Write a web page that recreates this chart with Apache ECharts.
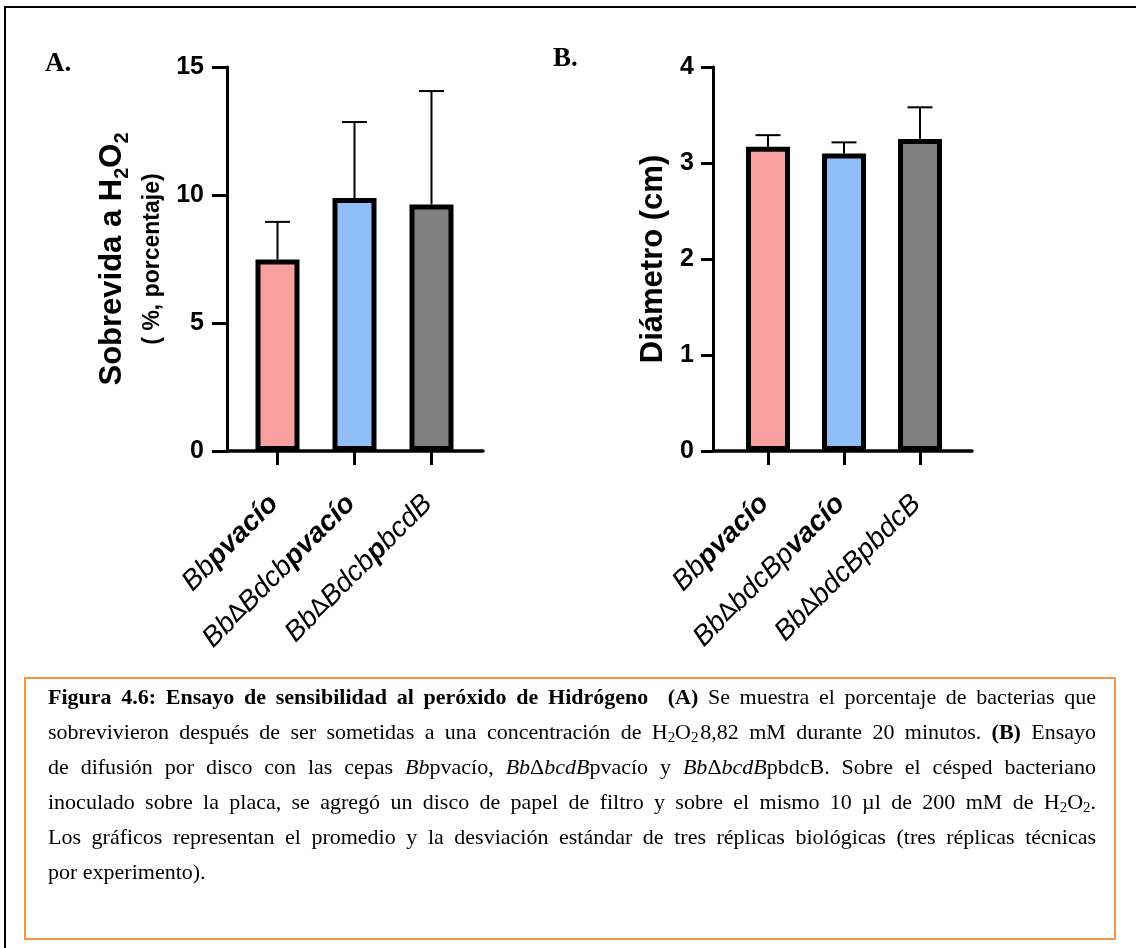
<!DOCTYPE html>
<html>
<head>
<meta charset="utf-8">
<script src="https://cdn.jsdelivr.net/npm/echarts@6/dist/echarts.min.js"></script>
<style>
  html, body { margin:0; padding:0; background:#fff; }
  #wrap { position:relative; width:1136px; height:948px; overflow:hidden; }
  #frame { position:absolute; left:4px; top:6px; width:1200px; height:1000px; border-left:2px solid #000; border-top:2px solid #000; }
  #chart { position:absolute; left:0; top:0; width:1136px; height:948px; }
  #caption { position:absolute; left:24px; top:677px; width:1088px; height:259px; border:2px solid #F79646; box-sizing:content-box;
             font-family:"Liberation Serif","Times New Roman",serif; font-size:22px; color:#000; }
  #caption .ln { position:absolute; left:22px; right:18px; height:35px; line-height:35px; white-space:nowrap; text-align:justify; text-align-last:justify; }
  #caption .ln.last { text-align:left; text-align-last:left; }
  #caption sub { font-size:0.68em; vertical-align:-0.2em; line-height:0; }
</style>
</head>
<body>
<div id="wrap">
  <div id="frame"></div>
  <div id="chart"></div>
  <div id="caption">
    <div class="ln" style="top:0px"><b>Figura 4.6: Ensayo de sensibilidad al peróxido de Hidrógeno&nbsp; (A)</b> Se muestra el porcentaje de bacterias que</div>
    <div class="ln" style="top:35px">sobrevivieron después de ser sometidas a una concentración de H<sub>2</sub>O<sub>2</sub>&#8202;8,82 mM durante 20 minutos. <b>(B)</b> Ensayo</div>
    <div class="ln" style="top:70px">de difusión por disco con las cepas <i>Bb</i>pvacío, <i>Bb</i>Δ<i>bcdB</i>pvacío y <i>Bb</i>Δ<i>bcdB</i>pbdcB. Sobre el césped bacteriano</div>
    <div class="ln" style="top:105px">inoculado sobre la placa, se agregó un disco de papel de filtro y sobre el mismo 10 µl de 200 mM de H<sub>2</sub>O<sub>2</sub>.</div>
    <div class="ln" style="top:140px">Los gráficos representan el promedio y la desviación estándar de tres réplicas biológicas (tres réplicas técnicas</div>
    <div class="ln last" style="top:175px">por experimento).</div>
  </div>
</div>
<script>
// ---------- DATA ----------
const categoriesA = ['Bbpvacío', 'Bb∆Bdcbpvacío', 'Bb∆BdcbpbcdB'];
const meansA = [7.48, 9.88, 9.63];
const sdA = [1.47, 2.97, 4.43];
const ticksA = [0, 5, 10, 15];

const categoriesB = ['Bbpvacío', 'Bb∆bdcBpvacío', 'Bb∆bdcBpbdcB'];
const meansB = [3.17, 3.10, 3.25];
const sdB = [0.12, 0.115, 0.33];
const ticksB = [0, 1, 2, 3, 4];

// ---------- STYLE ----------
const barColors = ['#F9A0A0', '#91BEF6', '#808080'];
const SANS = '"Liberation Sans", Arial, sans-serif';
const SERIF = '"Liberation Serif", "Times New Roman", serif';
const boldSpansA = [[2, 8], [7, 13], [7, 8]];
const boldSpansB = [[2, 8], [8, 13], [0, 0]];

function labelFormatter(spans) {
  return function (value, idx) {
    const sp = spans[idx] || [0, 0];
    let out = '', cur = null, buf = '';
    for (let i = 0; i < value.length; i++) {
      const ch = value[i];
      let st = (i >= sp[0] && i < sp[1]) ? 'b' : (ch === '∆' ? 'd' : 'r');
      if (st !== cur) { if (buf) out += '{' + cur + '|' + buf + '}'; buf = ''; cur = st; }
      buf += ch;
    }
    if (buf) out += '{' + cur + '|' + buf + '}';
    return out;
  };
}
const labelRich = {
  r: { fontSize: 28, fontStyle: 'italic', fontWeight: 'normal', fontFamily: SANS, color: '#000' },
  b: { fontSize: 28, fontStyle: 'italic', fontWeight: 'bold', fontFamily: SANS, color: '#000' },
  d: { fontSize: 24, fontStyle: 'normal', fontWeight: 'normal', fontFamily: '"DejaVu Sans", sans-serif', color: '#000' }
};

function errorRender(capW) {
  return function (params, api) {
    const x = api.value(0), y = api.value(1), e = api.value(2);
    const p0 = api.coord([x, y]);
    const p1 = api.coord([x, y + e]);
    return {
      type: 'group',
      children: [
        { type: 'line', shape: { x1: p0[0], y1: p0[1], x2: p1[0], y2: p1[1] }, style: { stroke: '#000', lineWidth: 2 } },
        { type: 'line', shape: { x1: p1[0] - capW / 2, y1: p1[1], x2: p1[0] + capW / 2, y2: p1[1] }, style: { stroke: '#000', lineWidth: 2 } }
      ]
    };
  };
}

function frameY(gridIndex, ticks, name, nameGap, rich, tickLen, labelGap) {
  return {
    gridIndex, type: 'value', min: ticks[0], max: ticks[ticks.length - 1], interval: ticks[1] - ticks[0],
    axisLine: { show: true, lineStyle: { color: '#000', width: 3 } },
    axisTick: { show: true, length: tickLen, lineStyle: { color: '#000', width: 3 } },
    axisLabel: { fontSize: 25, fontWeight: 'bold', color: '#000', fontFamily: SANS, margin: tickLen + labelGap },
    splitLine: { show: false },
    name, nameLocation: 'middle', nameGap, nameRotate: 90,
    nameTextStyle: { rich }
  };
}
function hiddenY(gridIndex, ticks) {
  return { gridIndex, type: 'value', min: ticks[0], max: ticks[ticks.length - 1], show: false, splitLine: { show: false } };
}
function frameX(gridIndex, cats) {
  return {
    gridIndex, type: 'category', data: cats,
    axisLine: { show: true, lineStyle: { color: '#000', width: 3.5 } },
    axisTick: { show: false }, axisLabel: { show: false }, splitLine: { show: false }
  };
}
function barX(gridIndex, cats, spans) {
  return {
    gridIndex, type: 'category', data: cats,
    axisLine: { show: false },
    axisTick: { show: true, alignWithLabel: true, length: 14, lineStyle: { color: '#000', width: 3 } },
    axisLabel: { show: true, interval: 0, rotate: 45, margin: 45, padding: [0, 5, 0, 0], formatter: labelFormatter(spans), rich: labelRich },
    splitLine: { show: false }
  };
}
function barSeries(axisIdx, means) {
  return {
    type: 'bar', xAxisIndex: axisIdx, yAxisIndex: axisIdx, barWidth: 44, z: 3,
    data: means.map((v, i) => ({ value: v, itemStyle: { color: barColors[i] } })),
    itemStyle: { borderColor: '#000', borderWidth: 5 },
    emphasis: { disabled: true }
  };
}
function errSeries(axisIdx, means, sds, capW) {
  return {
    type: 'custom', xAxisIndex: axisIdx, yAxisIndex: axisIdx, z: 2,
    renderItem: errorRender(capW),
    encode: { x: 0, y: 1 },
    data: means.map((m, i) => [i, m, sds[i]])
  };
}

const chart = echarts.init(document.getElementById('chart'), null, { renderer: 'canvas' });
chart.setOption({
  animation: false,
  backgroundColor: 'transparent',
  title: [
    { text: 'A.', left: 40, top: 46, textStyle: { fontFamily: SERIF, fontWeight: 'bold', fontSize: 27, color: '#000' } },
    { text: 'B.', left: 548, top: 41, textStyle: { fontFamily: SERIF, fontWeight: 'bold', fontSize: 27, color: '#000' } }
  ],
  grid: [
    { left: 227, top: 67, width: 256, height: 384 },
    { left: 239, top: 67, width: 231, height: 384 },
    { left: 713, top: 67, width: 259, height: 384 },
    { left: 730, top: 67, width: 228, height: 384 }
  ],
  yAxis: [
    frameY(0, ticksA, '{t|Sobrevida a H}{s|2}{t|O}{s|2}\n{p|( %, porcentaje)}', 54.5, {
      t: { fontSize: 31, fontWeight: 'bold', fontFamily: SANS, color: '#000', lineHeight: 41 },
      s: { fontSize: 20, fontWeight: 'bold', fontFamily: SANS, color: '#000', lineHeight: 28, verticalAlign: 'bottom' },
      p: { fontSize: 23, fontWeight: 'bold', fontFamily: SANS, color: '#000', lineHeight: 40 }
    }, 15, 8),
    hiddenY(1, ticksA),
    frameY(2, ticksB, '{t|Diámetro (cm)}', 42, {
      t: { fontSize: 31, fontWeight: 'bold', fontFamily: SANS, color: '#000', lineHeight: 36 }
    }, 12, 7),
    hiddenY(3, ticksB)
  ],
  xAxis: [
    frameX(0, categoriesA),
    barX(1, categoriesA, boldSpansA),
    frameX(2, categoriesB),
    barX(3, categoriesB, boldSpansB)
  ],
  series: [
    barSeries(1, meansA),
    errSeries(1, meansA, sdA, 25),
    barSeries(3, meansB),
    errSeries(3, meansB, sdB, 25)
  ]
});
</script>
</body>
</html>
